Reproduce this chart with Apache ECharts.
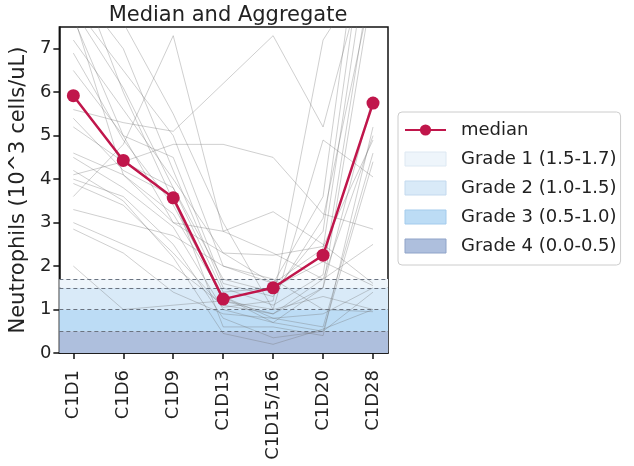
<!DOCTYPE html>
<html>
<head>
<meta charset="utf-8">
<script src="https://cdn.jsdelivr.net/npm/echarts@6/dist/echarts.min.js"></script>
<style>html,body{margin:0;padding:0;background:#fff}#c{width:634px;height:466px}</style>
</head>
<body>
<div id="c"></div>
<script>
const categories = ['C1D1','C1D6','C1D9','C1D13','C1D15/16','C1D20','C1D28'];
const median = [5.92, 4.43, 3.57, 1.24, 1.50, 2.25, 5.75];
const yTicks = [0,1,2,3,4,5,6,7];
const grades = [
  {name:'Grade 1 (1.5-1.7)', lo:1.5, hi:1.7},
  {name:'Grade 2 (1.0-1.5)', lo:1.0, hi:1.5},
  {name:'Grade 3 (0.5-1.0)', lo:0.5, hi:1.0},
  {name:'Grade 4 (0.0-0.5)', lo:0.0, hi:0.5}
];
const gradeLines = [1.7, 1.5, 1.0, 0.5];
const p1 = [8.5, 7.0, 4.2, 1.5, 1.1, 1.8, 9.0];
const p2 = [9.0, 6.0, 3.5, 1.2, 0.9, 1.5, 8.5];
const p3 = [7.2, 5.6, 4.0, 2.3, 1.6, 2.4, 10.0];
const p4 = [6.9, 4.9, 3.4, 1.3, 0.8, 0.6, 4.6];
const p5 = [5.6, 5.3, 5.1, 6.2, 7.3, 5.2, 9.5];
const p6 = [4.1, 4.4, 4.8, 4.8, 4.5, 3.2, 2.85];
const p7 = [3.6, 4.8, 7.3, 2.8, 2.3, 1.7, 2.5];
const p8 = [4.5, 3.8, 2.9, 1.0, 0.7, 0.5, 1.4];
const p9 = [2.85, 2.3, 1.4, 0.9, 0.8, 0.9, 1.5];
const p10 = [2.0, 1.0, 1.1, 1.2, 1.0, 1.3, 1.0];
const p11 = [3.0, 2.5, 2.0, 1.1, 0.9, 1.7, 5.0];
const p12 = [4.0, 3.6, 2.5, 0.8, 0.35, 0.5, 4.4];
const p13 = [6.5, 5.0, 3.0, 2.8, 3.25, 2.5, 1.6];
const p14 = [7.8, 4.1, 3.0, 2.3, 2.25, 2.45, 4.9];
const p15 = [9.0, 7.6, 5.5, 3.0, 1.0, 4.9, 4.05];
const p16 = [4.2, 3.5, 2.2, 0.45, 0.2, 0.55, 1.0];
const p17 = [5.2, 4.4, 3.8, 1.7, 1.4, 2.8, 11.0];
const p18 = [8.0, 6.5, 5.0, 2.0, 1.6, 3.6, 12.0];
const p19 = [3.9, 3.4, 2.3, 1.05, 1.2, 7.2, 9.0];
const p20 = [4.6, 4.1, 3.2, 1.3, 0.7, 1.5, 5.9];
const p21 = [5.4, 4.2, 3.6, 0.6, 0.6, 0.4, 5.2];
const p22 = [7.9, 6.1, 3.8, 1.4, 1.5, 2.1, 1.55];
const p23 = [3.3, 3.0, 2.7, 2.0, 1.7, 1.0, 0.95];
const p24 = [7.7, 5.0, 4.5, 1.6, 1.3, 3.1, 8.5];
const patients = [p1,p2,p3,p4,p5,p6,p7,p8,p9,p10,p11,p12,p13,p14,p15,p16,p17,p18,p19,p20,p21,p22,p23,p24];

const gradeColors = ['#eef5fb', '#d9eaf8', '#bcdcf5', '#aebfdd'];
const gradeBorders = ['#dde8f2', '#c3d9ee', '#a3cbec', '#8fa3c8'];
const idx = categories.map((c,i)=>i);
const toXY = arr => arr.map((v,i)=>[i, v]);
const FONT = 'DejaVu Sans';

const series = [];
grades.forEach((g,i)=>{
  series.push({
    name: g.name, type:'line', data: [], z: 1,
    itemStyle:{color: gradeColors[i]},
    markArea: {silent:true, itemStyle:{color: gradeColors[i], opacity:1}, data:[[{yAxis:g.lo},{yAxis:g.hi}]]}
  });
});
series.push({
  name:'lines', type:'line', data:[], z:2, silent:true,
  markLine:{silent:true, symbol:'none', label:{show:false},
    lineStyle:{type:[4,3], color:'#6a7380', width:1.2},
    data: gradeLines.map(v=>({yAxis:v}))}
});
patients.forEach((p,i)=>{
  series.push({
    name:'p'+(i+1), type:'line', data: toXY(p), symbol:'none', silent:true, z:3,
    lineStyle:{color:'rgba(110,110,110,0.33)', width:1}, clip:true
  });
});
series.push({
  name:'median', type:'line', data: toXY(median), symbol:'circle', symbolSize:13, z:5,
  itemStyle:{color:'#c0164b'}, lineStyle:{color:'#c0164b', width:2.5}
});

const chart = echarts.init(document.getElementById('c'), null, {renderer:'canvas'});
chart.setOption({
  animation:false,
  title:{text:'Median and Aggregate', left:223, textAlign:'center', top:0,
    textStyle:{fontFamily:FONT, fontSize:21, fontWeight:'normal', color:'#222'}},
  grid:{left:58, right:246, top:27, bottom:113, show:true, borderColor:'#111', borderWidth:1.5, backgroundColor:'transparent'},
  xAxis:{type:'value', min:-0.28, max:6.3,
    axisLine:{show:true, onZero:false, lineStyle:{color:'#111', width:1.5}},
    axisTick:{show:true, length:6, customValues: idx, lineStyle:{color:'#111', width:1.5}},
    axisLabel:{customValues: idx, rotate:90, margin:17, fontFamily:FONT, fontSize:18, color:'#222',
      formatter: v => categories[Math.round(v)]},
    splitLine:{show:false}},
  yAxis:{type:'value', min:0, max:7.5,
    name:'Neutrophils (10^3 cells/uL)', nameLocation:'middle', nameGap:30,
    nameTextStyle:{fontFamily:FONT, fontSize:21, color:'#222'},
    axisLine:{show:true, onZero:false, lineStyle:{color:'#111', width:1.5}},
    axisTick:{show:true, length:6, customValues: yTicks, lineStyle:{color:'#111', width:1.5}},
    axisLabel:{customValues: yTicks, margin:8, fontFamily:FONT, fontSize:18, color:'#222'},
    splitLine:{show:false}},
  legend:{
    orient:'vertical', left:398, top:112, padding:[9,4,10,6],
    backgroundColor:'#fff', borderColor:'#ccc', borderWidth:1, borderRadius:4,
    itemWidth:41, itemHeight:14, itemGap:11,
    textStyle:{fontFamily:FONT, fontSize:18, color:'#222', padding:[0,0,0,10]},
    data:[
      {name:'median'},
      ...grades.map((g,i)=>({name:g.name, icon:'rect', itemStyle:{color:gradeColors[i], borderColor:gradeBorders[i], borderWidth:1}}))
    ]
  },
  series: series
});
</script>
</body>
</html>
